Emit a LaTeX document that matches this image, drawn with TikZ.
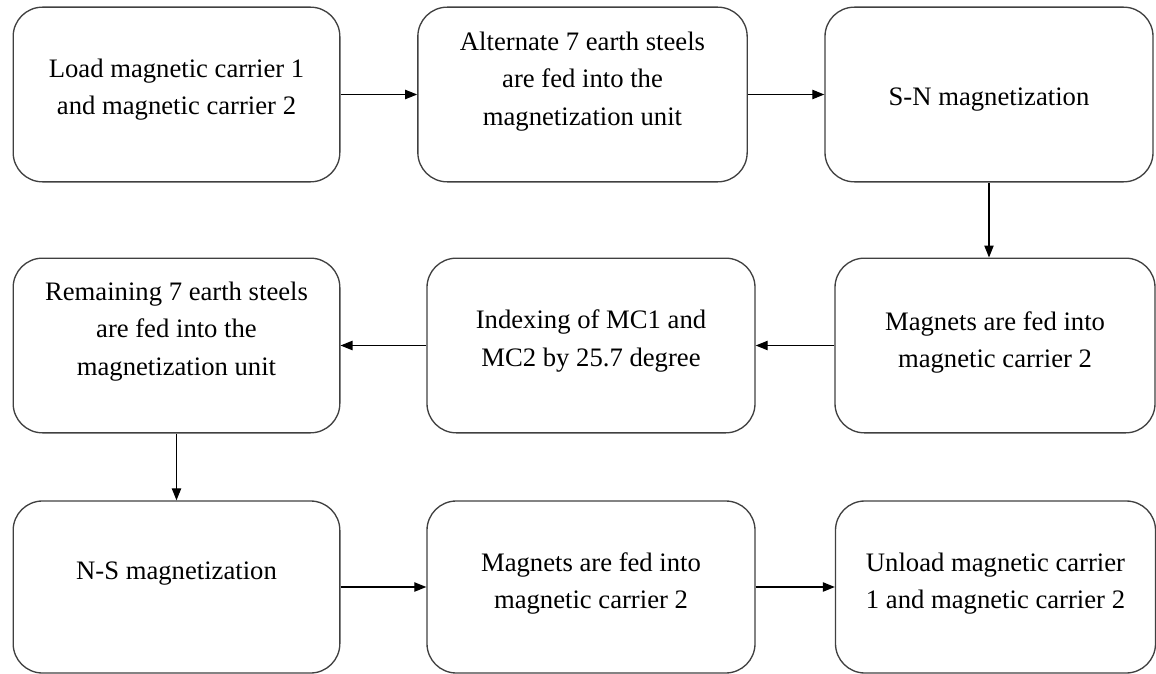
\documentclass[tikz,border=0pt]{standalone}
\usepackage{fontspec}
\setmainfont{Liberation Serif}
\newfontfamily\tnr{Liberation Serif}
\usetikzlibrary{arrows.meta}
\begin{document}
\begin{tikzpicture}[x=0.75pt,y=-0.75pt,
  box/.style={draw=black!75, line width=1pt, rounded corners=22pt, inner sep=0pt, minimum height=131pt},
  txt/.style={align=center, inner sep=0pt, font=\tnr\fontsize{20}{28}\selectfont},
  arr/.style={-{Triangle[length=9pt,width=7pt]}, line width=0.9pt, black}]
\useasboundingbox (0,0) rectangle (1156,674);
% boxes
\node[box, minimum width=245pt] (b1) at (176.5,94.5) {};
\node[box, minimum width=247pt] (b2) at (582.5,94.5) {};
\node[box, minimum width=246pt] (b3) at (989,94.5) {};
\node[box, minimum width=245pt] (b4) at (176.5,345.5) {};
\node[box, minimum width=246pt] (b5) at (591,345.5) {};
\node[box, minimum width=240pt] (b6) at (995,345.5) {};
\node[box, minimum width=245pt, minimum height=129pt] (b7) at (176.5,587) {};
\node[box, minimum width=246pt, minimum height=129pt] (b8) at (591,587) {};
\node[box, minimum width=240pt, minimum height=129pt] (b9) at (995.5,587) {};
% texts
\node[txt] (t1) at (176.5,89.5) {Load magnetic carrier 1\\and magnetic carrier 2};
\node[txt] (t2) at (582.5,81.5) {Alternate 7 earth steels\\are fed into the\\magnetization unit};
\node[txt] (t3) at (989,100) {S-N magnetization};
\node[txt] (t4) at (176.5,331.5) {Remaining 7 earth steels\\are fed into the\\magnetization unit};
\node[txt] (t5) at (591,341) {Indexing of MC1 and\\MC2 by 25.7 degree};
\node[txt] (t6) at (995,342.5) {Magnets are fed into\\magnetic carrier 2};
\node[txt] (t7) at (176.5,574) {N-S magnetization};
\node[txt] (t8) at (591,583.5) {Magnets are fed into\\magnetic carrier 2};
\node[txt] (t9) at (995.5,583.5) {Unload magnetic carrier\\1 and magnetic carrier 2};
% connectors
\draw[arr] (b1) -- (b2);
\draw[arr] (b2) -- (b3);
\draw[arr] (b3) -- (b3 |- b6.north);
\draw[arr] (b6) -- (b5);
\draw[arr] (b5) -- (b4);
\draw[arr] (b4) -- (b4 |- b7.north);
\draw[arr] (b7) -- (b8);
\draw[arr] (b8) -- (b9);
\end{tikzpicture}
\end{document}
